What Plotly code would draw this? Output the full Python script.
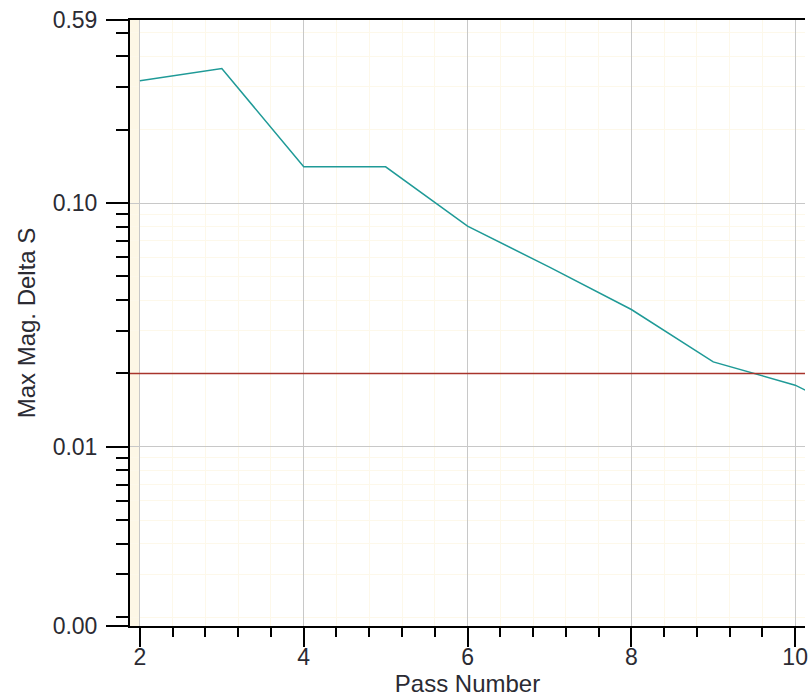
import numpy as np
import plotly.graph_objects as go

# values
passes = [2, 3, 4, 5, 6, 7, 8, 9, 10, 11]
delta_s = [0.318, 0.357, 0.141, 0.141, 0.0805, 0.0546, 0.0366, 0.0223, 0.0179, 0.0122]
limit = 0.02

y_top = 0.564
y_bottom = 0.00184
y_tickvals = [y_bottom, 0.01, 0.1, y_top]
y_ticktext = ["0.00", "0.01", "0.10", "0.59"]
y_minor = [0.002, 0.003, 0.004, 0.005, 0.006, 0.007, 0.008, 0.009,
           0.02, 0.03, 0.04, 0.05, 0.06, 0.07, 0.08, 0.09,
           0.2, 0.3, 0.4, 0.5]

x_lo, x_hi = 1.879, 10.12

grid_major = "#c8c8c8"
grid_minor = "#fdf8ea"
font = "Liberation Sans, Arial, sans-serif"
text_col = "#2b2b33"

fig = go.Figure()

fig.add_trace(
    go.Scatter(
        x=passes,
        y=delta_s,
        mode="lines",
        line=dict(color="#1f9a97", width=1.5),
        showlegend=False,
    )
)

fig.add_trace(
    go.Scatter(
        x=[x_lo, x_hi],
        y=[limit, limit],
        mode="lines",
        line=dict(color="#a8342c", width=1.5),
        showlegend=False,
    )
)

# cream strip left of the first pass
fig.add_shape(
    type="rect", xref="x", yref="paper",
    x0=x_lo, x1=2, y0=0, y1=1,
    fillcolor="#fdf7e6", line_width=0, layer="below",
)

fig.update_layout(
    width=808,
    height=698,
    margin=dict(l=130, r=0, t=20, b=72),
    plot_bgcolor="white",
    paper_bgcolor="white",
    font=dict(family=font, size=23, color=text_col),
    xaxis=dict(
        range=[x_lo, x_hi],
        tickvals=[2, 4, 6, 8, 10],
        ticks="outside",
        ticklen=19,
        tickwidth=2,
        tickcolor="black",
        showline=True,
        linecolor="black",
        linewidth=2,
        mirror=True,
        showgrid=True,
        gridcolor=grid_major,
        gridwidth=1,
        zeroline=False,
        ticklabeloverflow="allow",
        ticklabelstandoff=-10,
        tickfont=dict(size=23, color=text_col),
        title=dict(text="Pass Number", font=dict(size=24), standoff=0),
        minor=dict(
            tick0=2, dtick=0.4, ticks="outside", ticklen=9, tickwidth=2,
            tickcolor="black", showgrid=True, gridcolor=grid_minor,
        ),
    ),
    yaxis=dict(
        type="log",
        range=[np.log10(y_bottom) - 0.0005, np.log10(y_top) + 0.0005],
        tickmode="array",
        tickvals=y_tickvals,
        ticktext=y_ticktext,
        ticks="outside",
        ticklen=22,
        tickwidth=2,
        tickcolor="black",
        showline=True,
        linecolor="black",
        linewidth=2,
        showgrid=True,
        gridcolor=grid_major,
        zeroline=False,
        ticklabeloverflow="allow",
        ticklabelstandoff=4,
        tickfont=dict(size=23, color=text_col),
        title=dict(text="Max Mag. Delta S", font=dict(size=24), standoff=10),
        minor=dict(
            tickmode="array", tickvals=y_minor, ticks="outside", ticklen=12,
            tickwidth=2, tickcolor="black", showgrid=True, gridcolor=grid_minor,
        ),
    ),
)

# drop the page's default body margin so the figure fills the window
fig.write_html(
    "out.html",
    config={"displayModeBar": False},
    post_script="document.body.style.margin='0';",
)
